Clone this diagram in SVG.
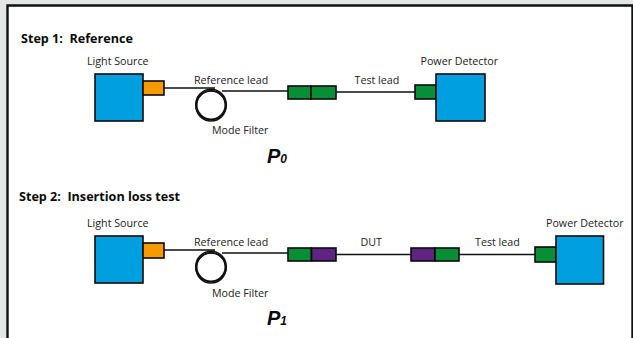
<svg xmlns="http://www.w3.org/2000/svg" width="633" height="338" viewBox="0 0 633 338">
<style>
.box{stroke:#0a0a0a;stroke-width:1.6}
.blue{fill:#009fdf}.orange{fill:#f59a00}.green{fill:#078e37}.purple{fill:#5f2382}
.wire{fill:none;stroke:#111;stroke-width:1.4}
.loop{fill:none;stroke:#111;stroke-width:1.5}
text{font-family:"Open Sans","Noto Sans","Liberation Sans",sans-serif;fill:#222;font-size:10.7px;white-space:pre}
.h{font-weight:700;font-size:12.6px;fill:#0a0a0a}
.p{font-family:"Liberation Sans",sans-serif;font-weight:700;font-style:italic;font-size:20px;fill:#0a0a0a}
.sub{font-size:12px}
</style>
<rect width="633" height="338" fill="#e4e6e5"/>
<path d="M7.500 338V5.500H632.500V338" fill="#fff" stroke="#111" stroke-width="2.400"/>
<g id="connectors">
<path class="wire" d="M164 88H215M222 91H288M336 92H415"/>
<path class="wire" d="M164 250H215M222 253H288M336 254.500H411M459 254.500H535"/>
</g>
<g id="title-1"><text class="h" x="21" y="42.500" xml:space="preserve">Step 1:  Reference</text></g>
<g id="source-1">
<text x="87" y="65">Light Source</text>
<rect class="box blue" x="95" y="74" width="48" height="47"/>
<rect class="box orange" x="143" y="81" width="21" height="14"/>
</g>
<g id="filter-1">
<circle class="loop" cx="211" cy="104.500" r="15.300"/><circle class="loop" cx="211" cy="106" r="15"/><circle class="loop" cx="211" cy="105" r="14.200"/>
<text x="212" y="134">Mode Filter</text>
</g>
<g id="ref-label-1"><text x="194" y="83.500">Reference lead</text></g>
<g id="connector-1">
<rect class="box green" x="288" y="86" width="23" height="13"/>
<rect class="box green" x="311" y="86" width="25" height="13"/>
</g>
<g id="test-label-1"><text x="354.500" y="83.500">Test lead</text></g>
<g id="detector-1">
<text x="420.500" y="65">Power Detector</text>
<rect class="box green" x="415" y="85" width="21" height="14"/>
<rect class="box blue" x="436" y="74" width="49" height="47"/>
</g>
<g id="p0"><text class="p" x="267" y="163">P<tspan class="sub">0</tspan></text></g>
<g id="title-2"><text class="h" x="19" y="200.500" xml:space="preserve">Step 2:  Insertion loss test</text></g>
<g id="source-2">
<text x="87" y="227">Light Source</text>
<rect class="box blue" x="95" y="236" width="48" height="47"/>
<rect class="box orange" x="143" y="243" width="21" height="15"/>
</g>
<g id="filter-2">
<circle class="loop" cx="211" cy="266.500" r="15.300"/><circle class="loop" cx="211" cy="268" r="15"/><circle class="loop" cx="211" cy="267" r="14.200"/>
<text x="212" y="297">Mode Filter</text>
</g>
<g id="ref-label-2"><text x="194" y="245.500">Reference lead</text></g>
<g id="connector-2">
<rect class="box green" x="288" y="248" width="23.500" height="13"/>
<rect class="box purple" x="311.500" y="248" width="24.500" height="13"/>
</g>
<g id="dut-label"><text x="360.500" y="245.500">DUT</text></g>
<g id="connector-3">
<rect class="box purple" x="411" y="248" width="24" height="13"/>
<rect class="box green" x="435" y="248" width="24" height="13"/>
</g>
<g id="test-label-2"><text x="475" y="245.500">Test lead</text></g>
<g id="detector-2">
<text x="546" y="227">Power Detector</text>
<rect class="box green" x="535" y="247" width="21" height="15"/>
<rect class="box blue" x="556" y="236" width="47.500" height="48"/>
</g>
<g id="p1"><text class="p" x="267" y="325">P<tspan class="sub">1</tspan></text></g>
</svg>
